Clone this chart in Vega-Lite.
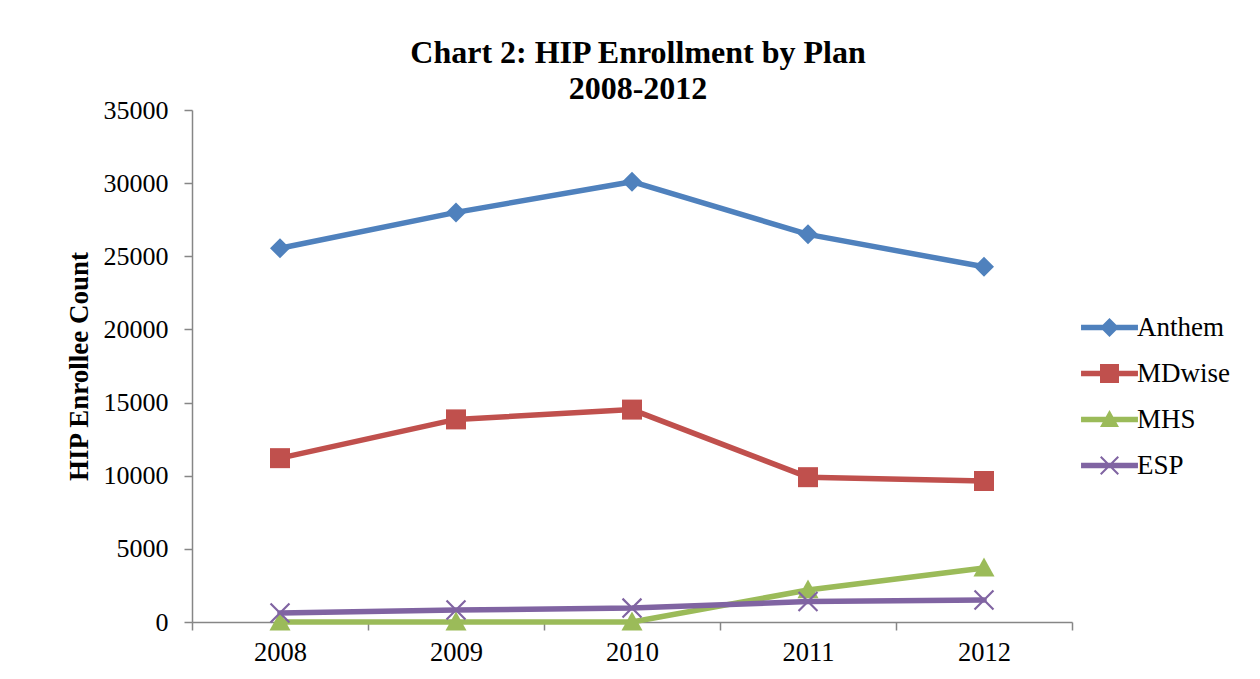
{
  "$schema": "https://vega.github.io/schema/vega-lite/v6.json",
  "width": 880,
  "height": 512,
  "autosize": {"type": "none"},
  "padding": {"left": 192, "top": 110, "right": 188, "bottom": 57},
  "background": "white",
  "config": {"view": {"stroke": null}},
  "title": {
    "text": ["Chart 2: HIP Enrollment by Plan", "2008-2012"],
    "font": "Liberation Serif",
    "fontSize": 32,
    "fontWeight": "bold",
    "color": "black",
    "anchor": "middle",
    "offset": -9,
    "lineHeight": 36,
    "dx": 6
  },
  "data": {
    "values": [
      {"plan": "Anthem", "year": "2008", "count": 25550},
      {"plan": "Anthem", "year": "2009", "count": 28000},
      {"plan": "Anthem", "year": "2010", "count": 30100},
      {"plan": "Anthem", "year": "2011", "count": 26500},
      {"plan": "Anthem", "year": "2012", "count": 24280},
      {"plan": "MDwise", "year": "2008", "count": 11200},
      {"plan": "MDwise", "year": "2009", "count": 13850},
      {"plan": "MDwise", "year": "2010", "count": 14520},
      {"plan": "MDwise", "year": "2011", "count": 9900},
      {"plan": "MDwise", "year": "2012", "count": 9640},
      {"plan": "MHS", "year": "2008", "count": 0},
      {"plan": "MHS", "year": "2009", "count": 0},
      {"plan": "MHS", "year": "2010", "count": 0},
      {"plan": "MHS", "year": "2011", "count": 2190},
      {"plan": "MHS", "year": "2012", "count": 3690},
      {"plan": "ESP", "year": "2008", "count": 620},
      {"plan": "ESP", "year": "2009", "count": 820},
      {"plan": "ESP", "year": "2010", "count": 950},
      {"plan": "ESP", "year": "2011", "count": 1400},
      {"plan": "ESP", "year": "2012", "count": 1500}
    ]
  },
  "encoding": {
    "x": {
      "field": "year",
      "type": "ordinal",
      "bandPosition": 0.5,
      "scale": {"type": "band", "paddingInner": 0, "paddingOuter": 0},
      "axis": {
        "title": null,
        "tickBand": "extent",
        "labelAngle": 0,
        "domainColor": "#868686",
        "domainWidth": 1.5,
        "tickColor": "#868686",
        "tickWidth": 1.5,
        "tickSize": 8,
        "labelFont": "Liberation Serif",
        "labelFontSize": 26.5,
        "labelColor": "black",
        "labelPadding": 9
      }
    },
    "y": {
      "field": "count",
      "type": "quantitative",
      "scale": {"domain": [0, 35000], "nice": false},
      "axis": {
        "values": [0, 5000, 10000, 15000, 20000, 25000, 30000, 35000],
        "format": "d",
        "grid": false,
        "domainColor": "#868686",
        "domainWidth": 1.5,
        "tickColor": "#868686",
        "tickWidth": 1.5,
        "tickSize": 8,
        "labelFont": "Liberation Serif",
        "labelFontSize": 26,
        "labelColor": "black",
        "labelPadding": 16,
        "title": "HIP Enrollee Count",
        "titleFont": "Liberation Serif",
        "titleFontSize": 27,
        "titleFontWeight": "bold",
        "titleColor": "black",
        "titlePadding": 10
      }
    },
    "color": {
      "field": "plan",
      "type": "nominal",
      "scale": {
        "domain": ["Anthem", "MDwise", "MHS", "ESP"],
        "range": ["#4F81BD", "#C0504D", "#9BBB59", "#8064A2"]
      },
      "legend": {
        "orient": "none",
        "legendX": 904,
        "legendY": 204,
        "title": null,
        "padding": 0,
        "labelFont": "Liberation Serif",
        "labelFontSize": 27,
        "labelColor": "black",
        "symbolSize": 360,
        "symbolStrokeWidth": 0,
        "labelOffset": 14,
        "rowPadding": 18,
        "encode": {
          "symbols": {
            "update": {
              "shape": {"signal": "'M-3,-0.3L3,-0.3L3,0.3L-3,0.3Z ' + (datum.value === 'Anthem' ? 'M0,-1L1,0L0,1L-1,0Z' : datum.value === 'MDwise' ? 'M-1,-1L1,-1L1,1L-1,1Z' : datum.value === 'MHS' ? 'M0,-1L1,0.8L-1,0.8Z' : 'M-0.85,-1L1,0.85L0.85,1L-1,-0.85Z M0.85,-1L1,-0.85L-0.85,1L-1,0.85Z')"},
              "fill": {"scale": "color", "field": "value"},
              "stroke": {"value": "transparent"},
              "strokeWidth": {"value": 0},
              "opacity": {"value": 1},
              "fillOpacity": {"value": 1}
            }
          }
        }
      }
    }
  },
  "layer": [
    {
      "mark": {"type": "line", "strokeWidth": 5.5, "strokeCap": "round", "strokeJoin": "round"}
    },
    {
      "transform": [{"filter": "datum.plan === 'Anthem'"}],
      "mark": {"type": "point", "filled": true, "opacity": 1, "size": 400, "shape": "M0,-1L1,0L0,1L-1,0Z"}
    },
    {
      "transform": [{"filter": "datum.plan === 'MDwise'"}],
      "mark": {"type": "point", "filled": true, "opacity": 1, "size": 400, "shape": "M-1,-1L1,-1L1,1L-1,1Z"}
    },
    {
      "transform": [{"filter": "datum.plan === 'MHS'"}],
      "mark": {"type": "point", "filled": true, "opacity": 1, "size": 441, "shape": "M0,-1L1,0.8L-1,0.8Z"}
    },
    {
      "transform": [{"filter": "datum.plan === 'ESP'"}],
      "mark": {"type": "point", "filled": true, "opacity": 1, "size": 420, "shape": "M-0.85,-1L1,0.85L0.85,1L-1,-0.85Z M0.85,-1L1,-0.85L-0.85,1L-1,0.85Z"}
    }
  ]
}
